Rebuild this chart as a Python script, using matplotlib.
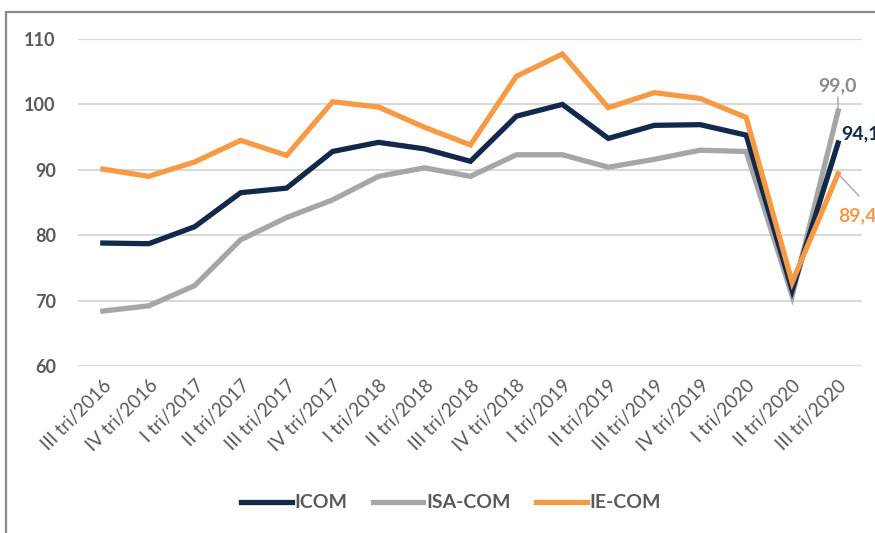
import numpy as np
import matplotlib.pyplot as plt
from matplotlib.patches import Rectangle

# dados
trimestres = ['III tri/2016', 'IV tri/2016', 'I tri/2017', 'II tri/2017', 'III tri/2017',
              'IV tri/2017', 'I tri/2018', 'II tri/2018', 'III tri/2018', 'IV tri/2018',
              'I tri/2019', 'II tri/2019', 'III tri/2019', 'IV tri/2019', 'I tri/2020',
              'II tri/2020', 'III tri/2020']
icom = [78.8, 78.7, 81.3, 86.5, 87.2, 92.8, 94.2, 93.2, 91.3, 98.2,
        100.0, 94.8, 96.8, 96.9, 95.3, 71.6, 94.1]
isa_com = [68.4, 69.2, 72.3, 79.3, 82.7, 85.4, 89.0, 90.3, 89.0, 92.3,
           92.3, 90.4, 91.6, 93.0, 92.8, 70.7, 99.0]
ie_com = [90.1, 89.0, 91.2, 94.5, 92.2, 100.4, 99.6, 96.5, 93.8, 104.3,
          107.7, 99.5, 101.8, 100.9, 98.0, 72.8, 89.4]
yticks = [60, 70, 80, 90, 100, 110]

c_icom = '#13294b'
c_isa = '#a6a6a6'
c_ie = '#f79a46'
c_txt = '#595959'

plt.rcParams['font.family'] = ['Lato', 'DejaVu Sans']

fig = plt.figure(figsize=(8.75, 5.33), dpi=100)
ax = fig.add_axes([78/875, 1-366/533, (862-78)/875, (366-39)/533])

x = np.arange(len(trimestres))
ax.plot(x, icom, color=c_icom, lw=3.8, label='ICOM', solid_joinstyle='miter', zorder=4)
ax.plot(x, isa_com, color=c_isa, lw=3.8, label='ISA-COM', solid_joinstyle='miter', zorder=3)
ax.plot(x, ie_com, color=c_ie, lw=3.8, label='IE-COM', solid_joinstyle='miter', zorder=5)

ax.set_ylim(60, 110)
ax.set_xlim(-0.54, 16.52)
ax.set_yticks(yticks)
ax.set_xticks(x)
ax.set_xticklabels(trimestres, rotation=45, ha='right', rotation_mode='anchor')
ax.grid(axis='y', color='#d9d9d9', lw=1.5, zorder=0)
ax.set_axisbelow(True)
for s in ax.spines.values():
    s.set_visible(False)
ax.tick_params(axis='both', length=0, colors=c_txt)
ax.tick_params(axis='y', labelsize=13, pad=16)
ax.tick_params(axis='x', labelsize=13.5, pad=8)
for t in ax.get_yticklabels():
    t.set_fontweight('bold')

# rotulos finais
last = len(trimestres) - 1
ax.annotate('99,0', xy=(last, isa_com[-1]), xytext=(-0.3, 12), textcoords='offset points',
            ha='center', va='bottom', color='#8c8c8c', fontsize=14, fontweight='bold',
            arrowprops=dict(arrowstyle='-', color='#a6a6a6', lw=1, shrinkA=0, shrinkB=2),
            annotation_clip=False)
ax.annotate('94,1', xy=(last, icom[-1]), xytext=(2, 7), textcoords='offset points',
            ha='left', va='center', color=c_icom, fontsize=14, fontweight='bold',
            annotation_clip=False)
ax.annotate('89,4', xy=(last, ie_com[-1]), xytext=(0, -30), textcoords='offset points',
            ha='left', va='center', color=c_ie, fontsize=14, fontweight='bold',
            annotation_clip=False)
ax.annotate('', xy=(last, ie_com[-1]), xytext=(15, -16), textcoords='offset points',
            arrowprops=dict(arrowstyle='-', color='#a6a6a6', lw=1, shrinkA=0, shrinkB=0),
            annotation_clip=False)

leg = fig.legend(loc='center', bbox_to_anchor=(451/875, 1-503/533), ncol=3, frameon=False,
                 handlelength=2.6, handletextpad=0.15, columnspacing=1.3,
                 prop={'size': 14, 'weight': 'bold'})
for t in leg.get_texts():
    t.set_color(c_txt)

# moldura do grafico
fig.patches.append(Rectangle((6/875, -0.1), 1.2, 1-12/533+0.1, transform=fig.transFigure,
                             fill=False, edgecolor='#8a8a8a', lw=1.6))

fig.savefig('out.png', dpi=100)
